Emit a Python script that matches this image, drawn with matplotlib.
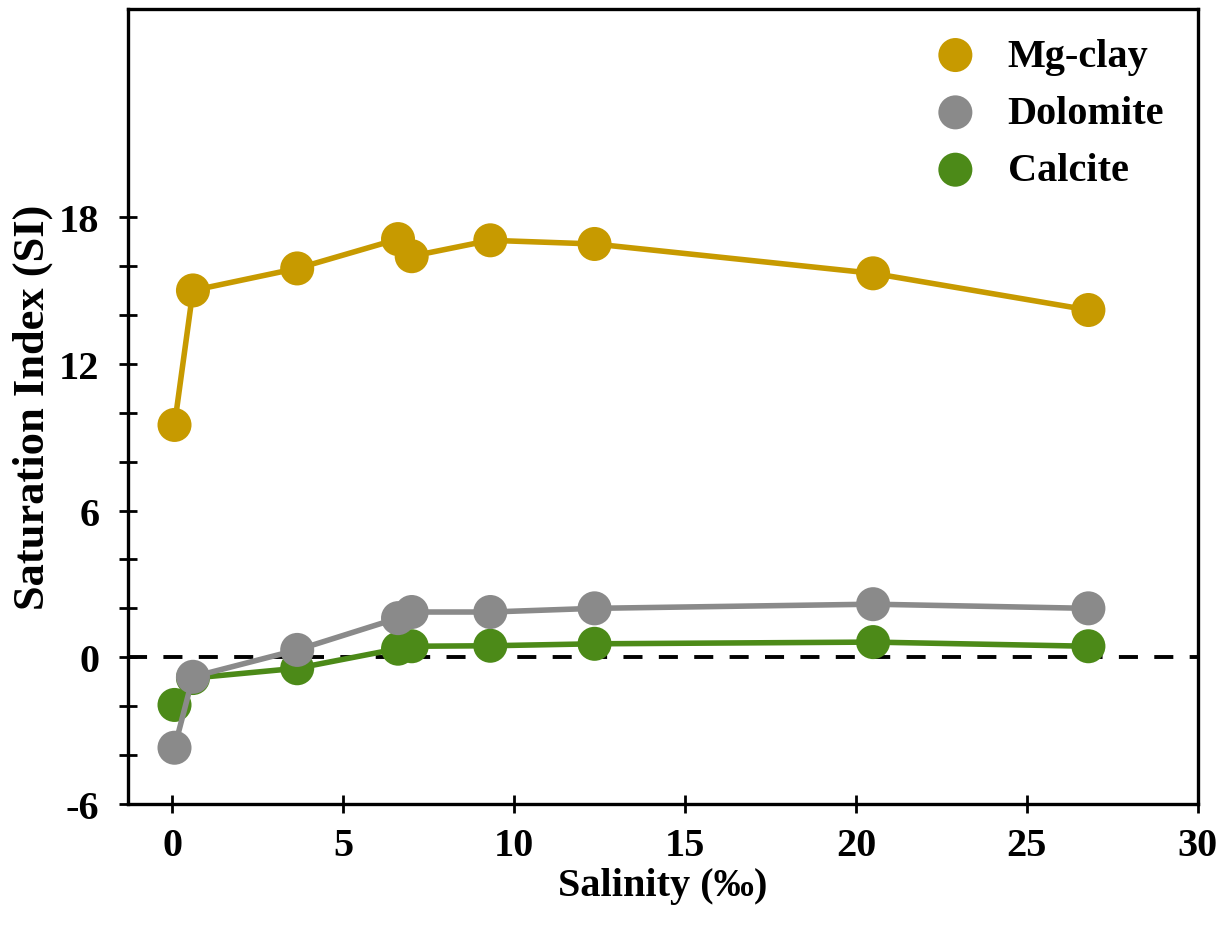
import matplotlib
matplotlib.use("Agg")
import matplotlib.pyplot as plt
from matplotlib.ticker import FixedLocator

plt.rcParams['font.family'] = ['Liberation Serif', 'DejaVu Serif']
plt.rcParams['font.weight'] = 'bold'
plt.rcParams['axes.unicode_minus'] = False

salinity = [0.06, 0.6, 3.65, 6.6, 7.0, 9.3, 12.35, 20.5, 26.8]
mg_clay = [9.5, 15.0, 15.9, 17.1, 16.4, 17.05, 16.9, 15.7, 14.2]
dolomite = [-3.7, -0.8, 0.3, 1.6, 1.85, 1.85, 2.0, 2.17, 2.0]
calcite = [-1.95, -0.85, -0.45, 0.35, 0.45, 0.47, 0.55, 0.62, 0.45]

series_names = ['Mg-clay', 'Dolomite', 'Calcite']
series_colors = ['#C79A00', '#8A8A8A', '#4C8A18']

x_ticks = [0, 5, 10, 15, 20, 25, 30]
y_ticks = [-6, 0, 6, 12, 18]
y_minor = [-6, -4, -2, 0, 2, 4, 6, 8, 10, 12, 14, 16, 18]

fig = plt.figure(figsize=(12.31, 9.29), dpi=100)
ax = fig.add_axes([0.104, 0.1335, 0.869, 0.8555])

handles = []
for name, vals, col, z in zip(series_names, [mg_clay, dolomite, calcite], series_colors, [4, 3, 2]):
    ax.plot(salinity, vals, color=col, lw=4.0, zorder=z)
    h = ax.scatter(salinity, vals, s=24.5**2, color=col, zorder=z + 0.5, edgecolors='none', label=name)
    handles.append(h)

ax.axhline(0, color='black', lw=2.8, ls=(0, (4.9, 4.2)), zorder=1.5)

ax.set_xlim(-1.3, 30)
ax.set_ylim(-6, 26.5)
ax.set_xticks(x_ticks)
ax.set_yticks(y_ticks)
ax.yaxis.set_minor_locator(FixedLocator(y_minor))
ax.tick_params(axis='both', which='both', direction='inout', length=13, width=2, labelsize=29)
ax.tick_params(axis='y', which='both', pad=14)
ax.tick_params(axis='x', which='both', pad=10)
for s in ax.spines.values():
    s.set_linewidth(2.4)

ax.set_xlabel('Salinity (‰)', fontsize=29, fontweight='bold', labelpad=2)
ax.set_ylabel('Saturation Index (SI)', fontsize=32, fontweight='bold', labelpad=4)

leg = ax.legend(handles=handles, loc='upper right', frameon=False, fontsize=29,
                handletextpad=0.3, labelspacing=0.5, borderaxespad=0.3, scatterpoints=1,
                bbox_to_anchor=(0.995, 1.0))
for t in leg.get_texts():
    t.set_fontweight('bold')

fig.savefig('out.png', dpi=100)
